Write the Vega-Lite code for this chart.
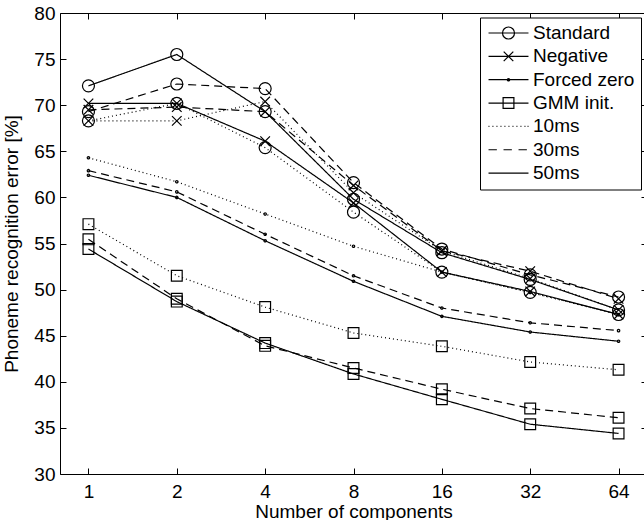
{
  "$schema": "https://vega.github.io/schema/vega-lite/v6.json",
  "width": 587,
  "height": 461,
  "autosize": {"type": "none"},
  "padding": {"left": 60, "top": 13, "right": 0, "bottom": 46},
  "background": "white",
  "config": {
    "view": {"stroke": null},
    "font": "Liberation Sans",
    "axis": {
      "domainColor": "black", "domainWidth": 1, "tickColor": "black", "tickWidth": 1,
      "labelColor": "black", "titleColor": "black", "labelFont": "Liberation Sans", "titleFont": "Liberation Sans",
      "labelFontSize": 19, "titleFontSize": 19, "titleFontWeight": "normal", "grid": false
    }
  },
  "data": {
    "values": [
      {"n": 1, "method": "Standard", "frame": "50ms", "err": 72.1},
      {"n": 2, "method": "Standard", "frame": "50ms", "err": 75.5},
      {"n": 4, "method": "Standard", "frame": "50ms", "err": 69.3},
      {"n": 8, "method": "Standard", "frame": "50ms", "err": 59.8},
      {"n": 16, "method": "Standard", "frame": "50ms", "err": 54.0},
      {"n": 32, "method": "Standard", "frame": "50ms", "err": 51.1},
      {"n": 64, "method": "Standard", "frame": "50ms", "err": 47.8},
      {"n": 1, "method": "Standard", "frame": "30ms", "err": 69.3},
      {"n": 2, "method": "Standard", "frame": "30ms", "err": 72.3},
      {"n": 4, "method": "Standard", "frame": "30ms", "err": 71.8},
      {"n": 8, "method": "Standard", "frame": "30ms", "err": 61.6},
      {"n": 16, "method": "Standard", "frame": "30ms", "err": 54.4},
      {"n": 32, "method": "Standard", "frame": "30ms", "err": 51.6},
      {"n": 64, "method": "Standard", "frame": "30ms", "err": 49.2},
      {"n": 1, "method": "Standard", "frame": "10ms", "err": 68.3},
      {"n": 2, "method": "Standard", "frame": "10ms", "err": 70.2},
      {"n": 4, "method": "Standard", "frame": "10ms", "err": 65.4},
      {"n": 8, "method": "Standard", "frame": "10ms", "err": 58.4},
      {"n": 16, "method": "Standard", "frame": "10ms", "err": 51.9},
      {"n": 32, "method": "Standard", "frame": "10ms", "err": 49.7},
      {"n": 64, "method": "Standard", "frame": "10ms", "err": 47.3},
      {"n": 1, "method": "Negative", "frame": "50ms", "err": 70.2},
      {"n": 2, "method": "Negative", "frame": "50ms", "err": 70.2},
      {"n": 4, "method": "Negative", "frame": "50ms", "err": 66.1},
      {"n": 8, "method": "Negative", "frame": "50ms", "err": 59.4},
      {"n": 16, "method": "Negative", "frame": "50ms", "err": 51.9},
      {"n": 32, "method": "Negative", "frame": "50ms", "err": 49.8},
      {"n": 64, "method": "Negative", "frame": "50ms", "err": 47.3},
      {"n": 1, "method": "Negative", "frame": "30ms", "err": 69.5},
      {"n": 2, "method": "Negative", "frame": "30ms", "err": 69.8},
      {"n": 4, "method": "Negative", "frame": "30ms", "err": 69.3},
      {"n": 8, "method": "Negative", "frame": "30ms", "err": 61.3},
      {"n": 16, "method": "Negative", "frame": "30ms", "err": 54.2},
      {"n": 32, "method": "Negative", "frame": "30ms", "err": 52.0},
      {"n": 64, "method": "Negative", "frame": "30ms", "err": 49.0},
      {"n": 1, "method": "Negative", "frame": "10ms", "err": 68.3},
      {"n": 2, "method": "Negative", "frame": "10ms", "err": 68.3},
      {"n": 4, "method": "Negative", "frame": "10ms", "err": 70.4},
      {"n": 8, "method": "Negative", "frame": "10ms", "err": 60.5},
      {"n": 16, "method": "Negative", "frame": "10ms", "err": 54.2},
      {"n": 32, "method": "Negative", "frame": "10ms", "err": 51.2},
      {"n": 64, "method": "Negative", "frame": "10ms", "err": 47.8},
      {"n": 1, "method": "Forced zero", "frame": "10ms", "err": 64.3},
      {"n": 2, "method": "Forced zero", "frame": "10ms", "err": 61.7},
      {"n": 4, "method": "Forced zero", "frame": "10ms", "err": 58.2},
      {"n": 8, "method": "Forced zero", "frame": "10ms", "err": 54.7},
      {"n": 16, "method": "Forced zero", "frame": "10ms", "err": 51.9},
      {"n": 32, "method": "Forced zero", "frame": "10ms", "err": 49.7},
      {"n": 64, "method": "Forced zero", "frame": "10ms", "err": 47.3},
      {"n": 1, "method": "Forced zero", "frame": "30ms", "err": 62.9},
      {"n": 2, "method": "Forced zero", "frame": "30ms", "err": 60.6},
      {"n": 4, "method": "Forced zero", "frame": "30ms", "err": 56.0},
      {"n": 8, "method": "Forced zero", "frame": "30ms", "err": 51.5},
      {"n": 16, "method": "Forced zero", "frame": "30ms", "err": 48.0},
      {"n": 32, "method": "Forced zero", "frame": "30ms", "err": 46.4},
      {"n": 64, "method": "Forced zero", "frame": "30ms", "err": 45.55},
      {"n": 1, "method": "Forced zero", "frame": "50ms", "err": 62.4},
      {"n": 2, "method": "Forced zero", "frame": "50ms", "err": 60.0},
      {"n": 4, "method": "Forced zero", "frame": "50ms", "err": 55.3},
      {"n": 8, "method": "Forced zero", "frame": "50ms", "err": 50.9},
      {"n": 16, "method": "Forced zero", "frame": "50ms", "err": 47.1},
      {"n": 32, "method": "Forced zero", "frame": "50ms", "err": 45.4},
      {"n": 64, "method": "Forced zero", "frame": "50ms", "err": 44.4},
      {"n": 1, "method": "GMM init.", "frame": "10ms", "err": 57.1},
      {"n": 2, "method": "GMM init.", "frame": "10ms", "err": 51.5},
      {"n": 4, "method": "GMM init.", "frame": "10ms", "err": 48.1},
      {"n": 8, "method": "GMM init.", "frame": "10ms", "err": 45.3},
      {"n": 16, "method": "GMM init.", "frame": "10ms", "err": 43.85},
      {"n": 32, "method": "GMM init.", "frame": "10ms", "err": 42.15},
      {"n": 64, "method": "GMM init.", "frame": "10ms", "err": 41.3},
      {"n": 1, "method": "GMM init.", "frame": "30ms", "err": 55.45},
      {"n": 2, "method": "GMM init.", "frame": "30ms", "err": 49.0},
      {"n": 4, "method": "GMM init.", "frame": "30ms", "err": 43.9},
      {"n": 8, "method": "GMM init.", "frame": "30ms", "err": 41.5},
      {"n": 16, "method": "GMM init.", "frame": "30ms", "err": 39.2},
      {"n": 32, "method": "GMM init.", "frame": "30ms", "err": 37.1},
      {"n": 64, "method": "GMM init.", "frame": "30ms", "err": 36.1},
      {"n": 1, "method": "GMM init.", "frame": "50ms", "err": 54.4},
      {"n": 2, "method": "GMM init.", "frame": "50ms", "err": 48.7},
      {"n": 4, "method": "GMM init.", "frame": "50ms", "err": 44.2},
      {"n": 8, "method": "GMM init.", "frame": "50ms", "err": 40.85},
      {"n": 16, "method": "GMM init.", "frame": "50ms", "err": 38.1},
      {"n": 32, "method": "GMM init.", "frame": "50ms", "err": 35.4},
      {"n": 64, "method": "GMM init.", "frame": "50ms", "err": 34.4}
    ]
  },
  "resolve": {"axis": {"x": "independent", "y": "independent"}, "scale": {"shape": "independent"}},
  "layer": [
    {
      "mark": {"type": "line", "color": "black", "strokeWidth": 1.2, "clip": true},
      "encoding": {
        "x": {"field": "n", "type": "quantitative",
          "scale": {"type": "log", "base": 2, "domain": [0.8, 80], "nice": false},
          "axis": {"values": [1, 2, 4, 8, 16, 32, 64], "format": "d", "tickSize": -6, "labelPadding": 14, "title": "Number of components", "titlePadding": 1}},
        "y": {"field": "err", "type": "quantitative",
          "scale": {"domain": [30, 80], "nice": false, "zero": false},
          "axis": {"values": [30, 35, 40, 45, 50, 55, 60, 65, 70, 75, 80], "tickSize": -6, "labelPadding": 11, "title": "Phoneme recognition error [%]", "titlePadding": 12}},
        "strokeDash": {"field": "frame", "type": "nominal",
          "scale": {"domain": ["10ms", "30ms", "50ms"], "range": [[1, 3], [8, 5], [1, 0]]}, "legend": null},
        "detail": {"field": "method"}
      }
    },
    {
      "mark": {"type": "point", "filled": false, "color": "black", "strokeWidth": 1.2, "opacity": 1, "size": 144},
      "encoding": {
        "x": {"field": "n", "type": "quantitative",
          "axis": {"orient": "top", "values": [1, 2, 4, 8, 16, 32, 64], "labels": false, "title": null, "tickSize": -6}},
        "y": {"field": "err", "type": "quantitative",
          "axis": {"orient": "right", "values": [30, 35, 40, 45, 50, 55, 60, 65, 70, 75, 80], "labels": false, "title": null, "tickSize": -6}},
        "shape": {"field": "method", "type": "nominal",
          "scale": {
            "domain": ["Standard", "Negative", "Forced zero", "GMM init."],
            "range": [
              "M-1,0A1,1 0 1,1 1,0A1,1 0 1,1 -1,0Z",
              "M-0.8,-0.8L0.8,0.8M-0.8,0.8L0.8,-0.8",
              "M-0.2,0A0.2,0.2 0 1,1 0.2,0A0.2,0.2 0 1,1 -0.2,0Z",
              "M-0.9,-0.9H0.9V0.9H-0.9Z"
            ]
          },
          "legend": null
        }
      }
    },
    {
      "transform": [{"filter": "datum.n > 1000"}],
      "mark": {"type": "point", "filled": false, "color": "black", "strokeWidth": 1.2, "opacity": 1, "size": 144},
      "encoding": {
        "shape": {"field": "method", "type": "nominal",
          "scale": {
            "domain": ["Standard", "Negative", "Forced zero", "GMM init.", "10ms", "30ms", "50ms"],
            "range": [
              "M-3.33,0H3.33M-1,0A1,1 0 1,1 1,0A1,1 0 1,1 -1,0Z",
              "M-3.33,0H3.33M-0.8,-0.8L0.8,0.8M-0.8,0.8L0.8,-0.8",
              "M-3.33,0H3.33M-0.2,0A0.2,0.2 0 1,1 0.2,0A0.2,0.2 0 1,1 -0.2,0Z",
              "M-3.33,0H3.33M-0.9,-0.9H0.9V0.9H-0.9Z",
              "M-3.33,0h0.15M-2.67,0h0.15M-2,0h0.15M-1.33,0h0.15M-0.67,0h0.15M0,0h0.15M0.67,0h0.15M1.33,0h0.15M2,0h0.15M2.67,0h0.15M3.18,0h0.15",
              "M-3.33,0H-1.94M-0.83,0H0.56M1.67,0H3.06",
              "M-3.33,0H3.33"
            ]
          },
          "legend": {
            "title": null,
            "orient": "none",
            "legendX": 420,
            "legendY": 4.5,
            "padding": 6,
            "strokeColor": "black",
            "fillColor": "white",
            "labelFontSize": 19,
            "labelFont": "Liberation Sans",
            "labelColor": "black",
            "symbolSize": 144,
            "symbolStrokeColor": "black",
            "symbolStrokeWidth": 1.2,
            "symbolFillColor": "transparent",
            "symbolOffset": 13,
            "labelOffset": 15,
            "rowPadding": 3.35,
            "values": ["Standard", "Negative", "Forced zero", "GMM init.", "10ms", "30ms", "50ms"]
          }
        }
      }
    }
  ]
}
